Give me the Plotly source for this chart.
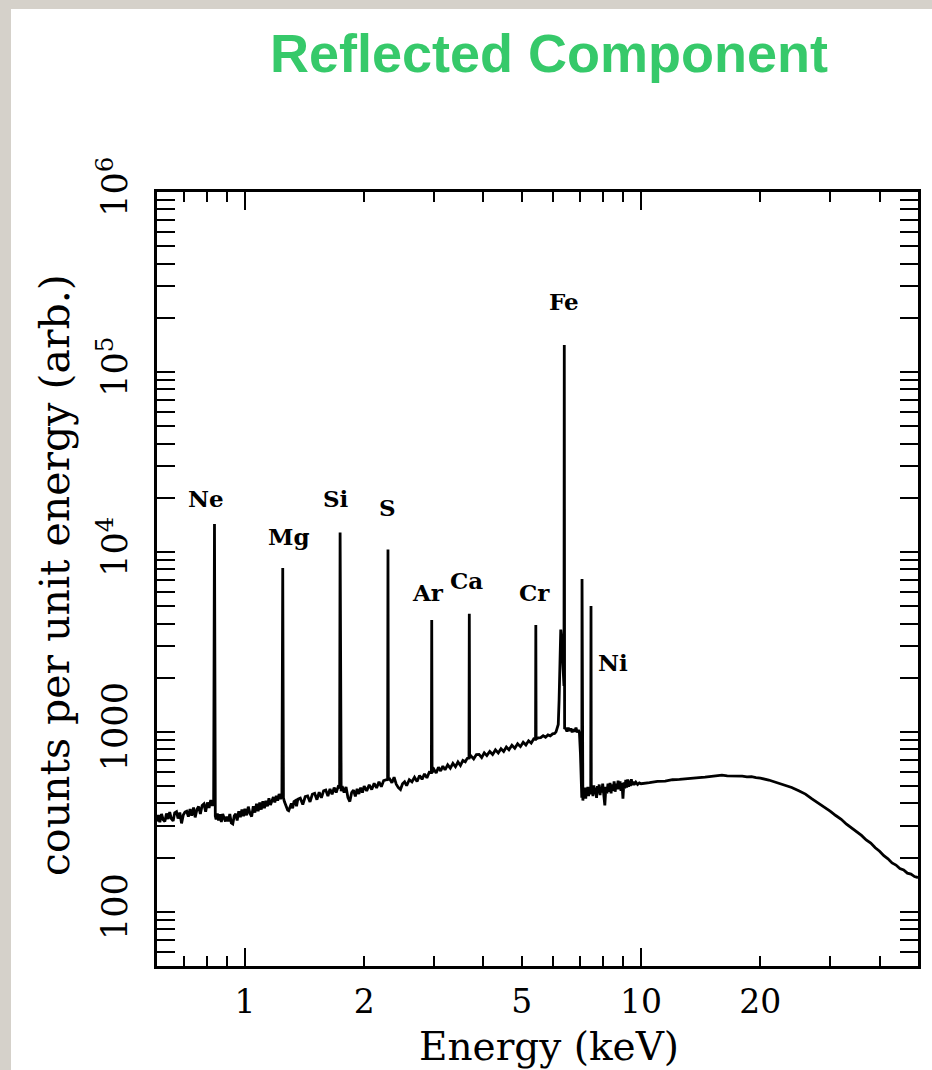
import numpy as np
import plotly.graph_objects as go

# ---------------- data ----------------
energy_keV = [
    0.600, 0.605, 0.610, 0.616, 0.622, 0.628, 0.634, 0.640, 0.646, 0.652, 0.659, 0.665,
    0.672, 0.678, 0.685, 0.692, 0.699, 0.706, 0.713, 0.720, 0.727, 0.734, 0.742, 0.749,
    0.757, 0.764, 0.772, 0.780, 0.788, 0.796, 0.804, 0.812, 0.820, 0.828, 0.834,
    0.838, 0.842,
    0.846, 0.852, 0.858, 0.865, 0.872, 0.879, 0.886, 0.893, 0.900, 0.908, 0.916, 0.924,
    0.932, 0.940, 0.948, 0.956, 0.965, 0.974, 0.983, 0.992, 1.000, 1.010, 1.020, 1.030,
    1.040, 1.050, 1.060, 1.070, 1.080, 1.090, 1.100, 1.110, 1.120, 1.130, 1.140, 1.150,
    1.160, 1.170, 1.180, 1.190, 1.200, 1.210, 1.220, 1.230, 1.240,
    1.246, 1.251,
    1.258, 1.266, 1.274, 1.282, 1.290, 1.300, 1.310, 1.320, 1.330, 1.340, 1.350, 1.360,
    1.380, 1.400, 1.420, 1.440, 1.460, 1.480, 1.500, 1.520, 1.540, 1.560, 1.580, 1.600,
    1.620, 1.640, 1.660, 1.680, 1.700, 1.720, 1.734,
    1.739, 1.744,
    1.750, 1.760, 1.780, 1.800, 1.820, 1.840, 1.860, 1.880, 1.900, 1.920, 1.940, 1.960,
    1.980, 2.000, 2.030, 2.060, 2.090, 2.120, 2.150, 2.180, 2.210, 2.240, 2.270, 2.292,
    2.297, 2.302,
    2.320, 2.350, 2.380, 2.410, 2.440, 2.470, 2.500, 2.530, 2.560, 2.600, 2.640, 2.680,
    2.720, 2.760, 2.800, 2.840, 2.880, 2.920, 2.956,
    2.962, 2.968,
    3.000, 3.040, 3.080, 3.120, 3.160, 3.200, 3.250, 3.300, 3.350, 3.400, 3.450, 3.500,
    3.550, 3.600, 3.640, 3.678,
    3.685, 3.692,
    3.720, 3.780, 3.840, 3.900, 3.960, 4.020, 4.080, 4.150, 4.220, 4.290, 4.360, 4.430,
    4.500, 4.570, 4.640, 4.720, 4.800, 4.880, 4.960, 5.040, 5.120, 5.200, 5.280, 5.360,
    5.415,
    5.424, 5.433,
    5.500, 5.580, 5.660, 5.740, 5.820, 5.900, 5.980, 6.050, 6.100, 6.150, 6.180, 6.210,
    6.240, 6.270, 6.300, 6.330, 6.360, 6.388,
    6.400, 6.412,
    6.450, 6.500, 6.550, 6.600, 6.650, 6.700, 6.750, 6.800, 6.850, 6.900, 6.950, 6.990,
    7.030, 7.060, 7.085,
    7.095, 7.105,
    7.130, 7.160, 7.190, 7.220, 7.250, 7.280, 7.310, 7.340, 7.370, 7.400, 7.430, 7.462,
    7.475, 7.488,
    7.520, 7.560, 7.600, 7.640, 7.680, 7.720, 7.760, 7.800, 7.840, 7.880, 7.920, 7.960,
    8.000, 8.050, 8.100, 8.150, 8.200, 8.250, 8.300, 8.350, 8.400, 8.450, 8.500, 8.550,
    8.600, 8.650, 8.700, 8.750, 8.800, 8.850, 8.900, 8.950, 9.000, 9.050, 9.100, 9.150,
    9.200, 9.250, 9.300, 9.350, 9.400, 9.450, 9.500, 9.550, 9.600, 9.700, 9.800, 9.900,
    10.00,
    10.5, 11.0, 11.5, 12.0, 12.5, 13.0, 13.5, 14.0, 14.5, 15.0, 15.5, 16.0, 16.5, 17.0,
    17.5, 18.0, 18.5, 19.0, 19.5, 20.0, 21.0, 22.0, 23.0, 24.0, 25.0, 26.0, 27.0, 28.0,
    29.0, 30.0, 31.0, 32.0, 33.0, 34.0, 35.0, 36.0, 37.0, 38.0, 39.0, 40.0, 41.0, 42.0,
    43.0, 44.0, 45.0, 46.0, 47.0, 48.0, 49.0, 50.0,
]

counts = [
    318, 345, 315, 350, 325, 318, 352, 328, 358, 330, 320, 355,
    360, 330, 356, 310, 345, 358, 362, 338, 372, 342, 380, 335,
    372, 385, 350, 390, 398, 360, 405, 378, 418, 388, 420,
    14300, 340,
    326, 352, 322, 348, 316, 350, 328, 318, 338, 318, 350, 312,
    308, 342, 350, 322, 362, 336, 370, 340, 374, 344, 384, 352,
    338, 386, 356, 398, 362, 405, 370, 412, 376, 414, 386, 428,
    392, 420, 434, 405, 442, 415, 452, 424, 444,
    8150, 430,
    410, 395, 380, 368, 365, 388, 400, 376, 410, 414, 386, 422,
    428, 395, 436, 440, 408, 450, 455, 420, 462, 430, 470, 475,
    440, 482, 450, 490, 460, 496, 492,
    12800, 482,
    468, 500, 460, 494, 432, 410, 460, 474, 438, 482, 452, 490,
    460, 500, 470, 508, 478, 518, 488, 528, 496, 536, 540, 545,
    10300, 545,
    548, 522, 560, 512, 490, 478, 515, 528, 502, 542, 528, 560,
    530, 572, 545, 584, 555, 596, 595,
    4190, 595,
    620, 590, 636, 606, 645, 615, 656, 628, 668, 640, 680, 650,
    694, 682, 712, 715,
    4530, 720,
    736, 708, 748, 750, 720, 764, 738, 778, 748, 794, 764, 806,
    778, 824, 795, 842, 810, 858, 828, 876, 845, 892, 866, 915,
    912,
    3930, 915,
    925, 928, 952, 934, 962, 950, 975, 980, 1000, 1050, 1100, 1500,
    2400, 3700, 3300, 2600, 2100, 1800,
    141000, 1050,
    1045, 1005, 1055, 1015, 1045, 995, 1035, 1005, 1055, 995, 1025, 980,
    760, 520, 430,
    7080, 440,
    415, 470, 435, 490, 425, 480, 440, 495, 440, 485, 450, 475,
    5000, 455,
    500, 440, 505, 450, 490, 430, 500, 455, 510, 445, 495, 460,
    515, 450, 390, 495, 455, 515, 465, 520, 455, 510, 470, 530,
    465, 515, 480, 535, 480, 530, 470, 520, 425, 525, 485, 540,
    490, 545, 495, 535, 500, 545, 505, 530, 508, 525, 510, 520,
    515,
    522, 531, 533, 542, 544, 550, 553, 557, 560, 566, 567, 575, 570, 570,
    566, 567, 562, 564, 557, 553, 540, 523, 505, 491, 471, 451, 424, 403,
    381, 363, 343, 327, 307, 293, 277, 266, 251, 241, 227, 217, 205, 197,
    187, 182, 174, 171, 164, 162, 157, 155,
]

line_names = ["Ne", "Mg", "Si", "S", "Ar", "Ca", "Cr", "Fe", "Ni"]
line_energy_keV = [0.838, 1.246, 1.739, 2.297, 2.962, 3.685, 5.424, 6.400, 7.475]
line_peak_counts = [14300, 8150, 12800, 10300, 4190, 4530, 3930, 141000, 5000]

x_tick_vals = [1, 2, 5, 10, 20]
x_tick_text = ["1", "2", "5", "10", "20"]
x_minor_vals = [0.7, 0.8, 0.9, 3, 4, 6, 7, 8, 9, 30, 40]
x_long_vals = [1, 10]
y_tick_vals = [100, 1000, 1e4, 1e5, 1e6]
y_tick_text = ["100", "1000", "10<sup>4</sup>", "10<sup>5</sup>", "10<sup>6</sup>"]
y_minor_vals = [60, 70, 80, 90] + [m * 10 ** d for d in (2, 3, 4, 5) for m in range(2, 10)]

title_text = "Reflected Component"
x_title = "Energy (keV)"
y_title = "counts per unit energy (arb.)"

# ---------------- style ----------------
label_offsets = {  # pixel offsets of each label from its line peak
    "Ne": (-8, 25), "Mg": (6, 31), "Si": (-4, 34), "S": (0, 42), "Ar": (-4, 27),
    "Ca": (-3, 33), "Cr": (-1, 32), "Fe": (0, 44), "Ni": (22, -56),
}
SERIF = "DejaVu Serif"
W, H = 932, 1070
L, R, T, B = 157, 14, 192, 104
PW, PH = W - L - R, H - T - B


def px_to_paper_x(px):
    return (px - L) / PW


def px_to_paper_y(py):
    return (H - B - py) / PH


x_range = [np.log10(0.6), np.log10(50)]
y_range = [np.log10(50), 6]

axis_common = dict(
    showline=True, linecolor="black", linewidth=2.6, mirror="allticks",
    ticks="inside", tickcolor="black", tickwidth=2, showgrid=False, zeroline=False,
)

fig = go.Figure()
fig.add_trace(go.Scatter(
    x=energy_keV, y=counts, mode="lines",
    line=dict(color="black", width=2.8), showlegend=False, hoverinfo="skip",
))
# empty trace carrying the overlay axis used for the long decade ticks
fig.add_trace(go.Scatter(x=[], y=[], xaxis="x2", yaxis="y", showlegend=False,
                         hoverinfo="skip"))

fig.update_layout(
    width=W, height=H, autosize=False,
    margin=dict(l=L, r=R, t=T, b=B, pad=0),
    paper_bgcolor="#d5d1ca", plot_bgcolor="white",
    xaxis=dict(
        type="log", range=x_range, tickvals=x_tick_vals, ticktext=x_tick_text,
        ticklen=10, ticklabelstandoff=5,
        tickfont=dict(family=SERIF, size=33, color="black"),
        minor=dict(tickvals=x_minor_vals, ticks="inside", ticklen=10,
                   tickcolor="black", tickwidth=2, showgrid=False),
        **axis_common,
    ),
    xaxis2=dict(
        type="log", range=x_range, overlaying="x", anchor="y", side="bottom",
        tickvals=x_long_vals, ticklen=18, showticklabels=False,
        **axis_common,
    ),
    yaxis=dict(
        type="log", range=y_range, tickvals=y_tick_vals, ticktext=y_tick_text,
        ticklen=18, tickangle=-90, ticklabelstandoff=13,
        tickfont=dict(family=SERIF, size=35, color="black"),
        minor=dict(tickvals=y_minor_vals, ticks="inside", ticklen=10,
                   tickcolor="black", tickwidth=2, showgrid=False),
        **axis_common,
    ),
)

# white panel over the textured surround
fig.add_shape(type="rect", xref="paper", yref="paper",
              x0=px_to_paper_x(11), x1=px_to_paper_x(W + 10),
              y0=px_to_paper_y(H + 10), y1=px_to_paper_y(9),
              fillcolor="white", line=dict(width=0), layer="below")

annotations = [
    dict(text="<b>" + title_text + "</b>", xref="paper", yref="paper",
         x=px_to_paper_x(549), y=px_to_paper_y(53), xanchor="center", yanchor="middle",
         showarrow=False, font=dict(family="Liberation Sans", size=54, color="#36c96a")),
    dict(text=x_title, xref="paper", yref="paper",
         x=px_to_paper_x(549), y=px_to_paper_y(1046), xanchor="center", yanchor="middle",
         showarrow=False, font=dict(family=SERIF, size=39, color="black")),
    dict(text=y_title, xref="paper", yref="paper", textangle=-90,
         x=px_to_paper_x(55), y=px_to_paper_y(575), xanchor="center", yanchor="middle",
         showarrow=False, font=dict(family=SERIF, size=41, color="black")),
]
for name, e, pk in zip(line_names, line_energy_keV, line_peak_counts):
    dx, dy = label_offsets[name]
    annotations.append(dict(
        text="<b>" + name + "</b>", xref="x", yref="y",
        x=np.log10(e), y=np.log10(pk), xshift=dx, yshift=dy,
        xanchor="center", yanchor="middle", showarrow=False,
        font=dict(family=SERIF, size=23, color="black"),
    ))
fig.update_layout(annotations=annotations)

fig.write_html("out.html")
